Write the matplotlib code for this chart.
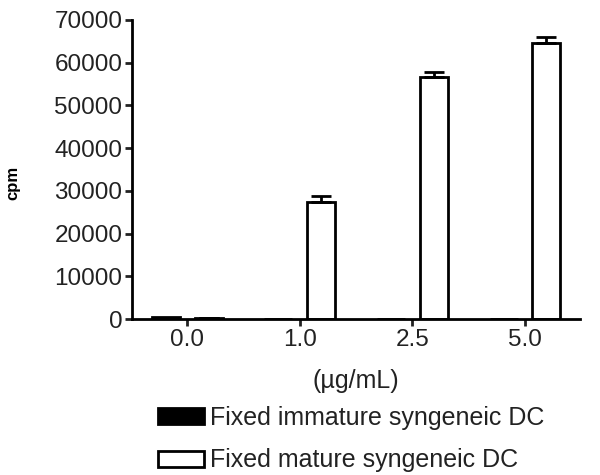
import matplotlib.pyplot as plt
import matplotlib.patches as mpatches
import numpy as np

plt.rcParams['font.family'] = ['Liberation Sans', 'DejaVu Sans']

# data
doses = ["0.0", "1.0", "2.5", "5.0"]
immature = [400, 150, 150, 150]
mature = [300, 27300, 56700, 64500]
mature_err = [0, 1500, 1200, 1400]

fig = plt.figure(figsize=(6, 4.75), dpi=100)
ax = fig.add_axes([0.22, 0.328, 0.747, 0.63])

x = np.arange(len(doses))
w = 0.25
off = 0.19
ax.bar(x - off, immature, w, color="black", edgecolor="black", linewidth=2)
ax.bar(x + off, mature, w, color="white", edgecolor="black", linewidth=2,
       yerr=[np.zeros(len(mature_err)), mature_err],
       error_kw=dict(ecolor="black", elinewidth=2, capsize=7.5, capthick=2))

ax.set_xlim(-0.49, 3.49)
ax.set_ylim(0, 70000)
ax.set_yticks(range(0, 70001, 10000))
ax.set_xticks(x)
ax.set_xticklabels(doses)
ax.tick_params(labelsize=17.5, width=2, length=5, pad=2, colors="#222222")
for s in ["top", "right"]:
    ax.spines[s].set_visible(False)
for s in ["left", "bottom"]:
    ax.spines[s].set_linewidth(2)

ax.set_ylabel("cpm", fontsize=12, fontweight="bold")
ax.yaxis.set_label_coords(-0.25, 0.455)
ax.set_xlabel("(µg/mL)", fontsize=18, labelpad=13, color="#222222")

handles = [mpatches.Patch(facecolor="black", edgecolor="black", linewidth=2),
           mpatches.Patch(facecolor="white", edgecolor="black", linewidth=2)]
fig.legend(handles, ["Fixed immature syngeneic DC", "Fixed mature syngeneic DC"],
           loc="upper left", bbox_to_anchor=(0.263, 0.145), frameon=False,
           fontsize=18, handlelength=1.85, handleheight=0.6, handletextpad=0.25,
           labelspacing=0.73, borderaxespad=0, borderpad=0, labelcolor="#222222")

fig.savefig("out.png", dpi=100)
